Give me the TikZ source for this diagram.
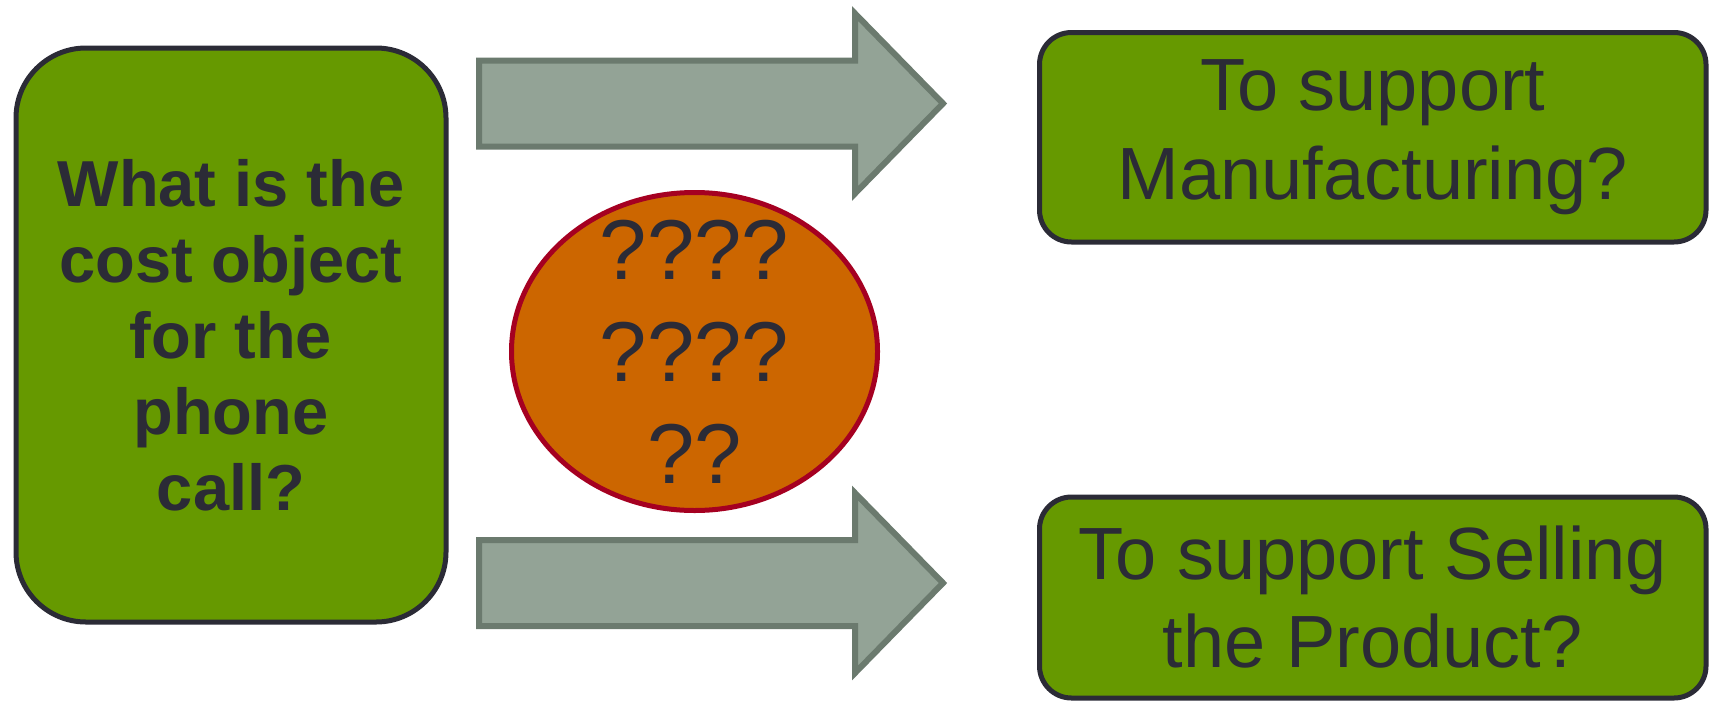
\documentclass[tikz,border=0pt]{standalone}
\usepackage{fontspec}
\setmainfont{Liberation Sans}
\usetikzlibrary{shapes.geometric,calc}
\definecolor{boxgreen}{HTML}{669900}
\definecolor{darkline}{HTML}{2B2B36}
\definecolor{arrfill}{HTML}{93A396}
\definecolor{arrline}{HTML}{6B7A6E}
\definecolor{ovalfill}{HTML}{CC6600}
\definecolor{ovalline}{HTML}{A50021}
\begin{document}
\begin{tikzpicture}[x=0.5pt,y=-0.5pt,
  greenbox/.style={draw=darkline, fill=boxgreen, line width=2.5pt, text=darkline, align=center, inner sep=0pt},
  blockarrow/.style={draw=arrline, fill=arrfill, line width=3pt, line join=miter},
  oval/.style={ellipse, draw=ovalline, fill=ovalfill, line width=2.5pt, inner sep=0pt}]
\useasboundingbox (0,0) rectangle (1711,702);
\fill[white] (0,0) rectangle (1711,702);

\node[greenbox, rounded corners=35pt, minimum width=215pt, minimum height=287pt,
  font=\fontsize{32.5pt}{38pt}\selectfont\bfseries] (q) at (231,335)
  {What is the\\cost object\\for the\\phone\\call?};

\node[greenbox, rounded corners=16pt, minimum width=333.25pt, minimum height=104.75pt,
  font=\fontsize{37pt}{44.5pt}\selectfont] (m) at (1372.75,137.25)
  {To support\\Manufacturing?};

\node[greenbox, rounded corners=16pt, minimum width=333.25pt, minimum height=100.5pt,
  font=\fontsize{37pt}{44pt}\selectfont] (s) at (1372.75,597.5)
  {To support Selling\\the Product?};

% block arrows
\coordinate (a1) at (479,103.5);
\coordinate (a2) at (479,583);
\draw[blockarrow] ($(a1)+(0,-43)$) -- ++(376,0) -- ++(0,-47) -- ++(88,90) -- ++(-88,90) -- ++(0,-47) -- ++(-376,0) -- cycle;
\draw[blockarrow] ($(a2)+(0,-43)$) -- ++(376,0) -- ++(0,-47) -- ++(88,90) -- ++(-88,90) -- ++(0,-47) -- ++(-376,0) -- cycle;

\node[oval, minimum width=183pt, minimum height=159pt] (o) at (694.5,351.5) {};
\node[text=darkline, align=center, inner sep=0pt,
  font=\fontsize{42.5pt}{51pt}\selectfont] (otext) at (o.center)
  {????\\????\\??};
\end{tikzpicture}
\end{document}
